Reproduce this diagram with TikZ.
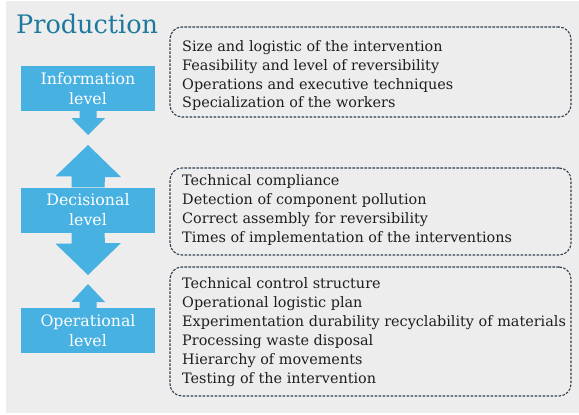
\documentclass[tikz,border=0pt]{standalone}
\usepackage{fontspec}
\setmainfont{DejaVu Serif}
\definecolor{panelgrey}{HTML}{EDEDED}
\definecolor{levelblue}{HTML}{47B1E2}
\definecolor{titleteal}{HTML}{1E7A9C}
\definecolor{inkdark}{HTML}{1E1E1E}
\definecolor{dashslate}{HTML}{2E3E4E}
\tikzset{
  levelbox/.style={fill=levelblue, text=white, minimum width=134pt, minimum height=45pt,
    inner sep=0pt, align=center, font=\fontsize{15.8}{20}\selectfont},
  itembox/.style={draw=dashslate, line width=1.1pt, dash pattern=on 2.6pt off 1.4pt,
    rounded corners=12pt, minimum width=401pt, inner sep=0pt},
  itemline/.style={anchor=base west, inner sep=0pt, text=inkdark, font=\fontsize{14.4}{19}\selectfont},
  arrowfill/.style={fill=levelblue}
}
\begin{document}
\begin{tikzpicture}[x=1pt,y=-1pt]
  \useasboundingbox (0,0) rectangle (579,415);
  \fill[panelgrey] (6,1) rectangle (579,413);

  % title
  \node[anchor=base west, inner sep=0pt, text=titleteal, font=\fontsize{25.5}{30}\selectfont]
    (title) at (16,33) {Production};

  % level boxes
  \node[levelbox] (info) at (88,88.5) {Information\\level};
  \node[levelbox] (dec)  at (88,210)  {Decisional\\level};
  \node[levelbox] (oper) at (88,330.5) {Operational\\level};

  % arrow from information level down to the decisional arrow
  \fill[arrowfill] ([xshift=-8.5pt]info.south) -- ++(0,7) -- ++(-8,0)
    -- (88,135) -- (105,118) -- ([xshift=8.5pt]info.south |- 0,118)
    -- ([xshift=8.5pt]info.south) -- cycle;
  % decisional double arrow
  \fill[arrowfill] ([xshift=-16.5pt]dec.north) -- ++(0,-11) -- ++(-16,0)
    -- (88,145) -- (121,177) -- (105,177) -- ([xshift=16.5pt]dec.north) -- cycle;
  \fill[arrowfill] ([xshift=-16.5pt]dec.south) -- ++(0,11) -- ++(-16,0)
    -- (88,275) -- (121,243) -- (105,243) -- ([xshift=16.5pt]dec.south) -- cycle;
  % operational arrow pointing up
  \fill[arrowfill] ([xshift=-8.5pt]oper.north) -- ++(0,-6) -- ++(-8,0)
    -- (88,284) -- (105,302) -- (96.5,302) -- ([xshift=8.5pt]oper.north) -- cycle;

  % item boxes
  \node[itembox, minimum height=90pt] (items1) at (370.5,72) {};
  \node[itembox, minimum height=87pt] (items2) at (370.5,211.5) {};
  \node[itembox, minimum height=129pt] (items3) at (370.5,331.5) {};

  \node[itemline] (a1) at (182,51)  {Size and logistic of the intervention};
  \node[itemline] (a2) at (182,70)  {Feasibility and level of reversibility};
  \node[itemline] (a3) at (182,89)  {Operations and executive techniques};
  \node[itemline] (a4) at (182,107) {Specialization of the workers};

  \node[itemline] (b1) at (182,185) {Technical compliance};
  \node[itemline] (b2) at (182,204) {Detection of component pollution};
  \node[itemline] (b3) at (182,223) {Correct assembly for reversibility};
  \node[itemline] (b4) at (182,242) {Times of implementation of the interventions};

  \node[itemline] (c1) at (182,288) {Technical control structure};
  \node[itemline] (c2) at (182,307) {Operational logistic plan};
  \node[itemline] (c3) at (182,326) {Experimentation durability recyclability of materials};
  \node[itemline] (c4) at (182,345) {Processing waste disposal};
  \node[itemline] (c5) at (182,364) {Hierarchy of movements};
  \node[itemline] (c6) at (182,383) {Testing of the intervention};
\end{tikzpicture}
\end{document}
